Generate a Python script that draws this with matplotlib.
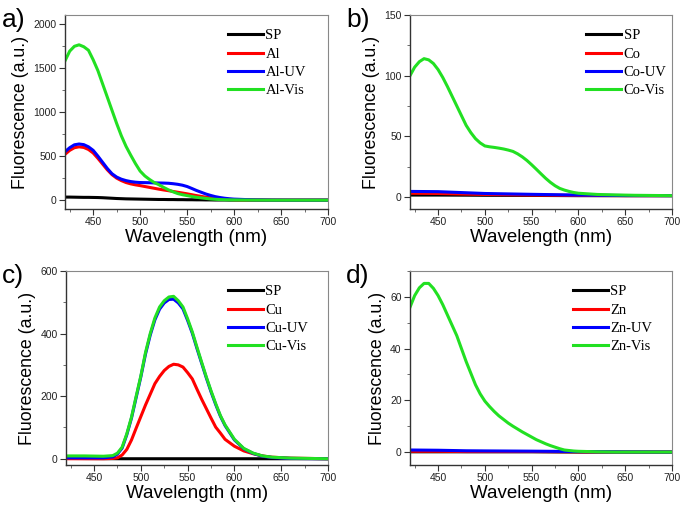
import matplotlib
matplotlib.use("Agg")
import matplotlib.pyplot as plt
from matplotlib.ticker import MultipleLocator

# ---- data (wavelength in nm, fluorescence in a.u.) ----
# shared grid for the broad spectra in panels a, b and d
wl = [420, 425, 430, 435, 440, 445, 450, 455, 460, 465,
      470, 475, 480, 485, 490, 495, 500, 505, 510, 515,
      520, 525, 530, 535, 540, 545, 550, 555, 560, 565,
      570, 575, 580, 585, 590, 595, 600,
      620, 640, 660, 700]
# coarse grid for the nearly flat traces
wl_flat = [420, 450, 480, 500, 550, 600, 650, 700]

# a) Al
sp_a = [35, 35, 34, 33, 32, 32, 31, 30, 28, 25,
        22, 19, 17, 15, 14, 13, 12, 11, 10, 9,
        8, 8, 7, 7, 6, 6, 5, 5, 4, 4,
        3, 3, 2, 2, 2, 1, 1,
        1, 0, 0, 0]
al = [520, 565, 595, 605, 598, 575, 535, 475, 410, 345,
      290, 250, 222, 200, 185, 174, 165, 155, 145, 135,
      125, 116, 108, 99, 90, 81, 72, 62, 52, 43,
      34, 27, 20, 16, 12, 9, 6,
      2, 0, 0, 0]
al_uv = [550, 595, 628, 637, 630, 605, 565, 500, 430, 360,
         300, 262, 238, 222, 211, 204, 200, 199, 198, 196,
         195, 194, 192, 187, 180, 170, 155, 133, 110, 90,
         70, 54, 40, 30, 22, 16, 12,
         4, 1, 0, 0]
al_vis = [1580, 1690, 1745, 1762, 1740, 1700, 1592, 1470, 1320, 1170,
          1020, 870, 730, 610, 510, 415, 330, 275, 235, 200,
          175, 145, 118, 95, 75, 62, 52, 42, 33, 26,
          20, 14, 10, 7, 5, 4, 3,
          1, 0, 0, 0]

# b) Co
sp_b = [1.5, 1.5, 1.4, 1.3, 1.2, 1.0, 1.0, 1.0]
co = [3.0, 2.8, 2.3, 2.0, 1.5, 1.2, 1.0, 1.0]
co_uv = [4.5, 4.3, 3.4, 2.8, 2.1, 1.5, 1.1, 1.0]
co_vis = [100, 107, 111.5, 114, 113, 110, 105, 98.5, 91, 83,
          75, 67, 59, 53, 48, 44.5, 42, 41.3, 40.8, 40.2,
          39.5, 38.6, 37.5, 35.5, 33, 30, 26.5, 22.8, 19, 15.3,
          12, 9.2, 7, 5.6, 4.5, 3.6, 3,
          2, 1.6, 1.3, 1]

# c) Cu
wl_c = [420, 440, 460, 470, 475, 480, 485, 490, 495, 500, 505, 510, 515, 520, 525, 530,
        535, 540, 545, 550, 555, 560, 565, 570, 575, 580, 585, 590, 600, 610, 620, 630,
        640, 660, 700]
sp_c = [1, 0.5, 0, 0, 0, 0, 0, 0]
cu = [0, 0, 0, 1, 3, 12, 30, 60, 98, 135, 172, 206, 240, 263, 282, 295, 302, 300, 293,
      275, 255, 222, 190, 160, 130, 101, 82, 62, 40, 25, 16, 9, 5, 2, 0]
cu_uv = [3, 3, 3, 6, 15, 34, 77, 130, 196, 262, 335, 395, 444, 478, 498, 509, 510, 498,
         479, 442, 401, 352, 305, 258, 214, 173, 136, 106, 60, 32, 17, 8, 4, 1, 0]
cu_vis = [9, 9, 8, 10, 18, 37, 80, 133, 200, 265, 340, 400, 450, 485, 505, 517, 519, 505,
          485, 447, 405, 356, 308, 261, 217, 176, 138, 108, 62, 33, 18, 9, 5, 2, 0]

# d) Zn
sp_d = [0.1, 0.1, 0.1, 0.1, 0.1, 0, 0, 0]
zn = [0.3, 0.3, 0.2, 0.2, 0.2, 0.1, 0, 0]
zn_uv = [0.8, 0.7, 0.5, 0.45, 0.35, 0.2, 0.05, 0]
zn_vis = [56, 60.5, 63.5, 65.2, 65.2, 63.3, 60.5, 57, 53, 49,
          45, 40, 35, 30.5, 26, 22.5, 19.7, 17.6, 15.7, 14,
          12.6, 11.2, 10, 8.9, 7.8, 6.8, 5.8, 4.8, 4, 3.2,
          2.5, 1.9, 1.3, 0.8, 0.6, 0.4, 0.3,
          0.1, 0, 0, 0]

colors = ["black", "#ff0000", "#0000ff", "#22e022"]

panels = [
    ("a)", "Al", [(wl, sp_a), (wl, al), (wl, al_uv), (wl, al_vis)], (-100, 2100), 500, 250),
    ("b)", "Co", [(wl_flat, sp_b), (wl_flat, co), (wl_flat, co_uv), (wl, co_vis)], (-10, 150), 50, 25),
    ("c)", "Cu", [(wl_flat, sp_c), (wl_c, cu), (wl_c, cu_uv), (wl_c, cu_vis)], (-20, 600), 200, 100),
    ("d)", "Zn", [(wl_flat, sp_d), (wl_flat, zn), (wl_flat, zn_uv), (wl, zn_vis)], (-5, 70), 20, 10),
]

W, H = 685, 508
fig = plt.figure(figsize=(W / 100, H / 100), dpi=100)

# axes boxes in pixels: left, top, right, bottom
boxes = [(65, 15, 328, 209), (410, 15, 672, 209), (66, 271, 328, 465), (410, 271, 672, 465)]
label_pos = [(2, 20), (346, 20), (2, 276), (346, 276)]
legend_x = [0.582, 0.634, 0.58, 0.584]

sans = "Liberation Sans"
serif = "Liberation Serif"

for (tag, metal, series, ylim, major, minor), box, lp, lx in zip(panels, boxes, label_pos, legend_x):
    l, t, r, b = box
    ax = fig.add_axes([l / W, 1 - b / H, (r - l) / W, (b - t) / H])
    names = ["SP", metal, metal + "-UV", metal + "-Vis"]
    for (xs, ys), c, n in zip(series, colors, names):
        ax.plot(xs, ys, color=c, lw=2.2, label=n)

    ax.set_xlim(420, 700)
    ax.set_ylim(*ylim)
    ax.xaxis.set_major_locator(MultipleLocator(50))
    ax.xaxis.set_minor_locator(MultipleLocator(25))
    ax.yaxis.set_major_locator(MultipleLocator(major))
    ax.yaxis.set_minor_locator(MultipleLocator(minor))
    ax.tick_params(which="major", direction="out", length=4, width=0.8,
                   labelsize=7.5, colors="#333333", pad=2)
    ax.tick_params(which="minor", direction="out", length=2, width=0.6, colors="#555555")
    for lab in ax.get_xticklabels() + ax.get_yticklabels():
        lab.set_fontfamily(sans)
        lab.set_color("#222222")
    for s in ("left", "bottom"):
        ax.spines[s].set_color("#333333")
        ax.spines[s].set_linewidth(1.0)
    for s in ("top", "right"):
        ax.spines[s].set_color("#888888")
        ax.spines[s].set_linewidth(0.8)

    ax.set_xlabel("Wavelength (nm)", fontfamily=sans, fontsize=13.5, labelpad=1)
    ax.set_ylabel("Fluorescence (a.u.)", fontfamily=sans, fontsize=12.8, labelpad=3)

    ax.legend(loc="upper left", bbox_to_anchor=(lx, 0.98), frameon=False,
              prop={"family": serif, "size": 10.5}, handlelength=2.4,
              handletextpad=0.15, labelspacing=0.35, borderpad=0.2)

    fig.text(lp[0] / W, 1 - lp[1] / H, tag, fontfamily=sans, fontsize=19,
             va="center", ha="left")

fig.savefig("out.png", dpi=100)
